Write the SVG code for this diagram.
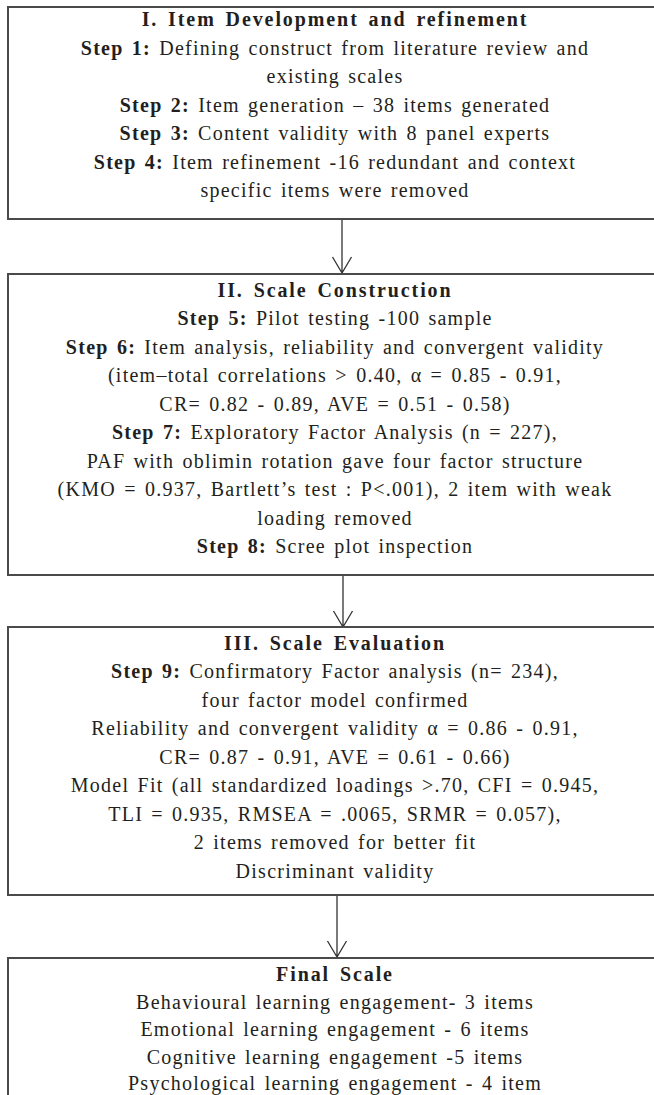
<svg xmlns="http://www.w3.org/2000/svg" width="654" height="1095" viewBox="0 0 654 1095">
<style>
.box{fill:#fff;stroke:#4a4a4a;stroke-width:2}
.t{font-family:"Liberation Serif","Times New Roman",serif;font-size:20px;letter-spacing:1.25px;word-spacing:2px;fill:#231f20;text-anchor:middle}
.b{font-weight:bold}
.h{font-weight:bold;letter-spacing:1.9px;word-spacing:3px}
.conn{stroke:#333;stroke-width:1.3;fill:none}
</style>
<rect width="654" height="1095" fill="#fff"/>
<g id="connectors">
<path class="conn" d="M342 219V273M332.5 257L342 273L351.5 257"/>
<path class="conn" d="M343 575V627M333.5 611L343 627L352.5 611"/>
<path class="conn" d="M337 895V957M327.5 941L337 957L346.5 941"/>
</g>
<g id="node1">
<rect class="box" x="8" y="7" width="660" height="212"/>
<text class="t h" x="335" y="26">I. Item Development and refinement</text>
<text class="t" x="335" y="54.5"><tspan class="b">Step 1:</tspan> Defining construct from literature review and</text>
<text class="t" x="335" y="83">existing scales</text>
<text class="t" x="335" y="111.5"><tspan class="b">Step 2:</tspan> Item generation – 38 items generated</text>
<text class="t" x="335" y="140"><tspan class="b">Step 3:</tspan> Content validity with 8 panel experts</text>
<text class="t" x="335" y="168.5"><tspan class="b">Step 4:</tspan> Item refinement -16 redundant and context</text>
<text class="t" x="335" y="197">specific items were removed</text>
</g>
<g id="node2">
<rect class="box" x="8" y="274" width="660" height="301"/>
<text class="t h" x="335" y="296.5">II. Scale Construction</text>
<text class="t" x="335" y="325"><tspan class="b">Step 5:</tspan> Pilot testing -100 sample</text>
<text class="t" x="335" y="353.5"><tspan class="b">Step 6:</tspan> Item analysis, reliability and convergent validity</text>
<text class="t" x="335" y="382">(item–total correlations &gt; 0.40, α = 0.85 - 0.91,</text>
<text class="t" x="335" y="410.5">CR= 0.82 - 0.89, AVE = 0.51 - 0.58)</text>
<text class="t" x="335" y="439"><tspan class="b">Step 7:</tspan> Exploratory Factor Analysis (n = 227),</text>
<text class="t" x="335" y="467.5">PAF with oblimin rotation gave four factor structure</text>
<text class="t" x="335" y="496">(KMO = 0.937, Bartlett’s test : P&lt;.001), 2 item with weak</text>
<text class="t" x="335" y="524.5">loading removed</text>
<text class="t" x="335" y="553"><tspan class="b">Step 8:</tspan> Scree plot inspection</text>
</g>
<g id="node3">
<rect class="box" x="8" y="627" width="660" height="268"/>
<text class="t h" x="335" y="649.5">III. Scale Evaluation</text>
<text class="t" x="335" y="678"><tspan class="b">Step 9:</tspan> Confirmatory Factor analysis (n= 234),</text>
<text class="t" x="335" y="706.5">four factor model confirmed</text>
<text class="t" x="335" y="735">Reliability and convergent validity α = 0.86 - 0.91,</text>
<text class="t" x="335" y="763.5">CR= 0.87 - 0.91, AVE = 0.61 - 0.66)</text>
<text class="t" x="335" y="792">Model Fit (all standardized loadings &gt;.70, CFI = 0.945,</text>
<text class="t" x="335" y="820.5">TLI = 0.935, RMSEA = .0065, SRMR = 0.057),</text>
<text class="t" x="335" y="849">2 items removed for better fit</text>
<text class="t" x="335" y="877.5">Discriminant validity</text>
</g>
<g id="node4">
<rect class="box" x="8" y="958" width="660" height="160"/>
<text class="t h" x="335" y="981">Final Scale</text>
<text class="t" x="335" y="1008.5">Behavioural learning engagement- 3 items</text>
<text class="t" x="335" y="1036">Emotional learning engagement - 6 items</text>
<text class="t" x="335" y="1063.5">Cognitive learning engagement -5 items</text>
<text class="t" x="335" y="1090">Psychological learning engagement - 4 item</text>
</g>
</svg>
